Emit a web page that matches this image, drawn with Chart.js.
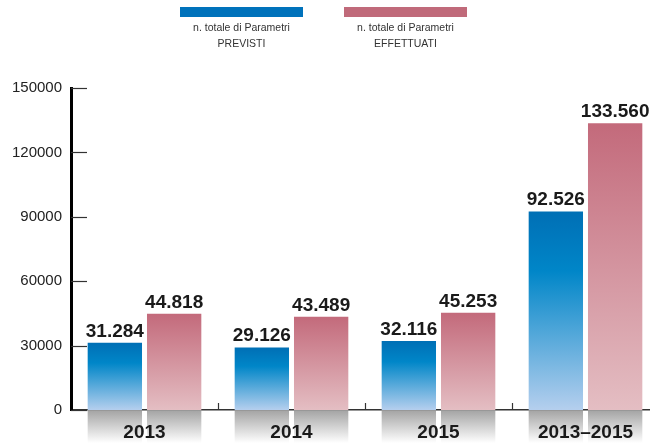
<!DOCTYPE html>
<html>
<head>
<meta charset="utf-8">
<script src="https://cdn.jsdelivr.net/npm/chart.js@4"></script>
<style>
  html, body { margin: 0; padding: 0; background: #fff; overflow: hidden; width: 650px; height: 443px; }
  #wrap { position: relative; width: 660px; height: 443px; }
  .leg { position: absolute; top: 7px; width: 123px; text-align: center;
         font-family: "Liberation Sans", Arial, sans-serif; font-size: 10.5px; color: #333; line-height: 15.5px; }
  .leg .box { height: 10px; margin-bottom: 3px; }
</style>
</head>
<body>
<div id="wrap">
  <div id="legend"></div>
  <canvas id="myChart" width="660" height="443"></canvas>
</div>
<script>
// data
const categories = ['2013', '2014', '2015', '2013–2015']
const previsti = [31284, 29126, 32116, 92526]
const effettuati = [44818, 43489, 45253, 133560]
const seriesNames = [
    ['n. totale di Parametri', 'PREVISTI'],
    ['n. totale di Parametri', 'EFFETTUATI']
]
const yTicks = [0, 30000, 60000, 90000, 120000, 150000]

const blueStops = [[0, '#006FB5'], [0.3, '#0086C8'], [1, '#B5CFEE']]
const pinkStops = [[0, '#C36A7B'], [1, '#E4BEC3']]

// legend (box above two lines of text)
const legendLeft = [180, 344]
const legendColors = ['#0072BB', '#C06A7A']
let legend = document.getElementById('legend')
seriesNames.forEach((lines, i) => {
    let d = document.createElement('div')
    d.className = 'leg'
    d.style.left = legendLeft[i] + 'px'
    let box = document.createElement('div')
    box.className = 'box'
    box.style.background = legendColors[i]
    d.appendChild(box)
    lines.forEach(t => {
        let l = document.createElement('div')
        l.innerText = t
        d.appendChild(l)
    })
    legend.appendChild(d)
})

function fmt(v) {
    return String(v).replace(/\B(?=(\d{3})+(?!\d))/g, '.')
}

// per-bar vertical gradient
function barGradient(stops) {
    return (ctx) => {
        const chart = ctx.chart
        if (!chart.chartArea || ctx.raw === undefined) return stops[0][1]
        const y = chart.scales.y
        const top = y.getPixelForValue(ctx.raw)
        const bottom = y.getPixelForValue(0)
        const g = chart.ctx.createLinearGradient(0, top, 0, bottom)
        stops.forEach(s => g.addColorStop(s[0], s[1]))
        return g
    }
}

// gray shadow boxes under the axis, value labels, inward ticks
const extras = {
    id: 'extras',
    beforeDraw(chart) {
        const c = chart.ctx
        const area = chart.chartArea
        c.save()
        chart.data.datasets.forEach((ds, di) => {
            chart.getDatasetMeta(di).data.forEach(bar => {
                const w = bar.width
                const g = c.createLinearGradient(0, area.bottom + 1, 0, chart.height)
                g.addColorStop(0, '#A6A6A6')
                g.addColorStop(1, '#FFFFFF')
                c.fillStyle = g
                c.fillRect(bar.x - w / 2, area.bottom + 1, w, chart.height - area.bottom)
            })
        })
        c.restore()
    },
    beforeDatasetsDraw(chart) {
        const c = chart.ctx
        const area = chart.chartArea
        c.save()
        // y ticks pointing into the plot
        const y = chart.scales.y
        c.strokeStyle = '#333'
        c.lineWidth = 1.2
        yTicks.forEach(v => {
            const py = Math.round(y.getPixelForValue(v)) + 0.5
            c.beginPath()
            c.moveTo(area.left, py)
            c.lineTo(area.left + 16, py)
            c.stroke()
        })
        // small ticks between categories
        const x = chart.scales.x
        for (let i = 0; i < categories.length - 1; i++) {
            const px = Math.round((x.getPixelForValue(i) + x.getPixelForValue(i + 1)) / 2) + 0.5
            c.beginPath()
            c.moveTo(px, area.bottom)
            c.lineTo(px, area.bottom - 7)
            c.stroke()
        }
        c.restore()
    },
    afterDatasetsDraw(chart) {
        const c = chart.ctx
        c.save()
        c.font = 'bold 19px "Liberation Sans", Arial, sans-serif'
        c.fillStyle = '#1a1a1a'
        c.textAlign = 'center'
        c.textBaseline = 'alphabetic'
        chart.data.datasets.forEach((ds, di) => {
            chart.getDatasetMeta(di).data.forEach((bar, i) => {
                c.fillText(fmt(ds.data[i]), bar.x, bar.y - 6)
            })
        })
        c.restore()
    }
}

new Chart(document.getElementById('myChart'), {
    type: 'bar',
    data: {
        labels: categories,
        datasets: [{
            label: seriesNames[0].join(' '),
            data: previsti,
            backgroundColor: barGradient(blueStops),
            categoryPercentage: 0.807,
            barPercentage: 0.916
        }, {
            label: seriesNames[1].join(' '),
            data: effettuati,
            backgroundColor: barGradient(pinkStops),
            categoryPercentage: 0.807,
            barPercentage: 0.916
        }]
    },
    options: {
        responsive: false,
        animation: false,
        layout: { padding: { top: 88, right: 1, bottom: 0, left: 0 } },
        plugins: {
            legend: { display: false },
            tooltip: { enabled: false }
        },
        scales: {
            x: {
                afterFit: (s) => { s.height = 33 },
                grid: { display: false, drawTicks: false },
                border: { display: true, color: '#333', width: 1.5 },
                ticks: {
                    padding: 11,
                    color: '#1a1a1a',
                    font: { family: '"Liberation Sans", Arial, sans-serif', size: 19, weight: 'bold' }
                }
            },
            y: {
                min: 0,
                max: 150000,
                afterFit: (s) => { s.width = 71 },
                afterBuildTicks: (s) => { s.ticks = yTicks.map(v => ({ value: v })) },
                grid: { display: false, drawTicks: false },
                border: { display: true, color: '#000', width: 3 },
                ticks: {
                    padding: 9,
                    color: '#222',
                    font: { family: '"Liberation Sans", Arial, sans-serif', size: 15 },
                    callback: (v) => String(v)
                }
            }
        }
    },
    plugins: [extras]
})
</script>
</body>
</html>
